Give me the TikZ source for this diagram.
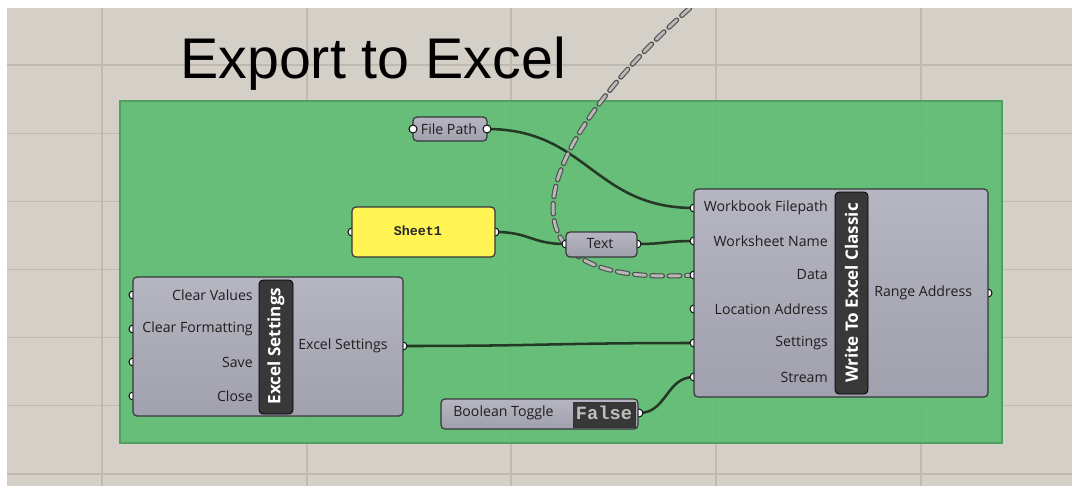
\documentclass[tikz,border=0pt]{standalone}
\usepackage{fontspec}
\setmainfont{Open Sans}
\newfontfamily\titlefont{Liberation Sans}
\newfontfamily\monofont{Liberation Mono}

\definecolor{canvas}{RGB}{212,208,200}
\definecolor{gridln}{RGB}{190,186,178}
\definecolor{grpgreen}{RGB}{94,189,114}
\definecolor{grpedge}{RGB}{80,160,96}
\definecolor{compfill}{RGB}{160,160,174}
\definecolor{comptop}{RGB}{182,182,194}
\definecolor{compedge}{RGB}{55,55,60}
\definecolor{barfill}{RGB}{56,56,56}
\definecolor{wirecol}{RGB}{36,56,38}
\definecolor{panelyel}{RGB}{255,244,84}
\definecolor{lbltext}{RGB}{30,30,30}

\pgfdeclarelayer{canvaslayer}
\pgfdeclarelayer{wirelayer}
\pgfsetlayers{canvaslayer,wirelayer,main}

\tikzset{
  comp/.style={draw=compedge, line width=0.9pt, rounded corners=3pt,
    top color=comptop, bottom color=compfill},
  bar/.style={draw=black, line width=0.6pt, fill=barfill, rounded corners=3pt},
  port/.style={circle, draw=black, fill=white, line width=0.7pt,
    minimum size=6pt, inner sep=0pt},
  lbl/.style={font=\fontsize{10.6}{11}\selectfont, text=lbltext, inner sep=0pt},
  bartxt/.style={font=\bfseries\fontsize{12.8}{13}\selectfont, text=white,
    inner sep=0pt, rotate=90},
  wire/.style={draw=wirecol, line width=1.9pt},
  ghostwire/.style={draw=black!70, double=black!28, double distance=2.2pt,
    line width=0.8pt, dash pattern=on 8pt off 5pt, line cap=round},
}

\begin{document}
\begin{tikzpicture}[x=0.75pt, y=-0.75pt]
  \useasboundingbox (0,0) rectangle (1072,486);

  \begin{pgfonlayer}{canvaslayer}
    \fill[white] (0,0) rectangle (1072,486);
    \fill[canvas] (7,8) rectangle (1072,486);
    \foreach \gx in {102,307,511,716,921}
      \draw[gridln, line width=1pt] (\gx,8) -- (\gx,486);
    \foreach \gy in {65,133.2,201.3,269.5,337.7,405.8,474}
      \draw[gridln, line width=1pt] (7,\gy) -- (1072,\gy);
    \draw[grpedge, fill=grpgreen, fill opacity=0.92, line width=0.8pt]
      (120,101) rectangle (1002,443);
  \end{pgfonlayer}

  \node[font=\titlefont\fontsize{43}{43}\selectfont, anchor=base west, inner sep=0pt]
    (title) at (180,78) {Export to Excel};

  % File Path
  \draw[comp] (413,117) rectangle (487,141);
  \node[port] (fp-in) at (413,129) {};
  \node[port] (fp-out) at (487,129) {};
  \node[lbl] (fp-txt) at (449,129) {File Path};

  % Sheet1 panel
  \node[port] (sh-in) at (352,232) {};
  \node[port] (sh-out) at (495,232) {};
  \draw[draw=compedge, line width=0.9pt, rounded corners=3pt, fill=panelyel]
    (352,207) rectangle (495,257);
  \node[font=\monofont\bfseries\fontsize{10}{11}\selectfont, text=black!85, inner sep=0pt]
    (sh-txt) at (418,231) {Sheet1};

  % Text
  \node[port] (tx-in) at (566,244) {};
  \node[port] (tx-out) at (637,244) {};
  \draw[comp] (566,232) rectangle (637,257);
  \node[lbl] (tx-txt) at (600,244) {Text};

  % Excel Settings
  \foreach \py/\pt [count=\i] in {295/Clear Values, 329/Clear Formatting, 362/Save, 396/Close}
    \node[port] (xs-in\i) at (133,\py) {};
  \node[port] (xs-out) at (403,346) {};
  \draw[comp] (133,277) rectangle (403,416);
  \foreach \py/\pt [count=\i] in {295/Clear Values, 329/Clear Formatting, 362/Save, 396/Close}
    \node[lbl, anchor=east] (xs-l\i) at (253,\py) {\pt};
  \draw[bar] (259,280) rectangle (293,414);
  \node[bartxt] (xs-name) at (276,346) {Excel Settings};
  \node[lbl, anchor=west] (xs-ol) at (298,346) {Excel Settings};

  % Write To Excel Classic
  \foreach \py [count=\i] in {208,241,275,309,343,377}
    \node[port] (wx-in\i) at (694,\py) {};
  \node[port] (wx-out) at (988,293) {};
  \draw[comp] (694,189) rectangle (988,397);
  \foreach \py/\pt [count=\i] in {208/Workbook Filepath, 241/Worksheet Name, 275/Data,
      309/Location Address, 343/Settings, 377/Stream}
    \node[lbl, anchor=east] (wx-l\i) at (828,\py) {\pt};
  \draw[bar] (835,192) rectangle (868,394);
  \node[bartxt] (wx-name) at (851.5,293) {Write To Excel Classic};
  \node[lbl, anchor=west] (wx-ol) at (874,293) {Range Address};

  % Boolean Toggle
  \node[port] (bt-out) at (639,413) {};
  \draw[comp] (441,399) rectangle (638,429);
  \node[lbl, anchor=west] (bt-txt) at (453,413) {Boolean Toggle};
  \draw[draw=black!80, fill=barfill, line width=0.6pt] (573,402) rectangle (635,427);
  \node[font=\monofont\bfseries\fontsize{14}{14}\selectfont, text=black!25, inner sep=0pt]
    (bt-val) at (604,413) {False};

  \begin{pgfonlayer}{wirelayer}
    \draw[wire] (fp-out.center) .. controls +(100,0) and +(-100,0) .. (wx-in1.center);
    \draw[wire] (sh-out.center) .. controls +(35,0) and +(-35,0) .. (tx-in.center);
    \draw[wire] (tx-out.center) .. controls +(28,0) and +(-28,0) .. (wx-in2.center);
    \draw[wire] (xs-out.center) .. controls +(140,0) and +(-140,0) .. (wx-in5.center);
    \draw[wire] (bt-out.center) .. controls +(28,0) and +(-28,0) .. (wx-in6.center);
    \begin{scope}
      \clip (7,8) rectangle (1072,486);
      \coordinate (ghost-src) at (716,-14);
      \draw[ghostwire] (ghost-src) .. controls (540,130) and (470,290) .. (wx-in3.center);
    \end{scope}
  \end{pgfonlayer}
\end{tikzpicture}
\end{document}
